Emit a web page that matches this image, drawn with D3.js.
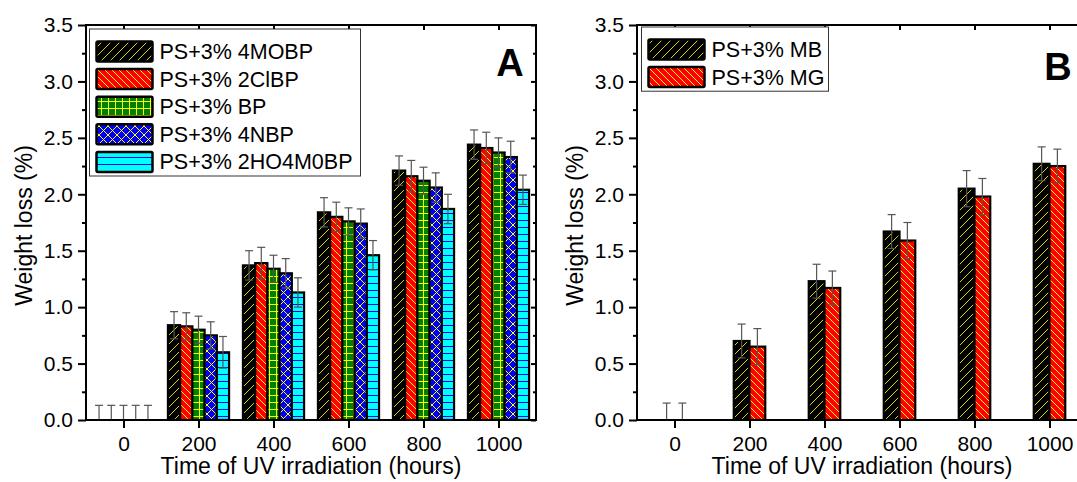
<!DOCTYPE html>
<html>
<head>
<meta charset="utf-8">
<script src="https://cdn.jsdelivr.net/npm/d3@7"></script>
<style>
  body { margin: 0; background: #fff; }
  svg { font-family: "Liberation Sans", Arial, sans-serif; }
</style>
</head>
<body>
<svg id="chart" width="1077" height="482"></svg>
<script>
// ---- data ----
const hours = [0, 200, 400, 600, 800, 1000];
const xTicks = [0, 200, 400, 600, 800, 1000];
const yTicks = [0, 0.5, 1.0, 1.5, 2.0, 2.5, 3.0, 3.5];
const yMinorTicks = [0.25, 0.75, 1.25, 1.75, 2.25, 2.75, 3.25];

const seriesA = ['PS+3% 4MOBP', 'PS+3% 2ClBP', 'PS+3% BP', 'PS+3% 4NBP', 'PS+3% 2HO4M0BP'];
const valuesA = [
    [0, 0.84, 1.37, 1.84, 2.21, 2.44],
    [0, 0.83, 1.39, 1.80, 2.16, 2.41],
    [0, 0.80, 1.34, 1.76, 2.12, 2.37],
    [0, 0.75, 1.30, 1.74, 2.06, 2.33],
    [0, 0.60, 1.13, 1.46, 1.87, 2.04]
];
const errorsA = [
    [0.13, 0.12, 0.13, 0.13, 0.13, 0.13],
    [0.13, 0.12, 0.14, 0.13, 0.14, 0.14],
    [0.13, 0.12, 0.12, 0.12, 0.12, 0.13],
    [0.13, 0.12, 0.13, 0.13, 0.13, 0.14],
    [0.13, 0.14, 0.13, 0.13, 0.13, 0.13]
];
const patternsA = ['slash', 'backslash', 'grid', 'cross', 'hline'];

const seriesB = ['PS+3% MB', 'PS+3% MG'];
const valuesB = [
    [0, 0.70, 1.23, 1.67, 2.05, 2.27],
    [0, 0.65, 1.17, 1.59, 1.98, 2.25]
];
const errorsB = [
    [0.15, 0.15, 0.15, 0.15, 0.16, 0.15],
    [0.15, 0.16, 0.15, 0.16, 0.16, 0.15]
];
const patternsB = ['slash', 'backslash'];

const svg = d3.select('#chart');
const defs = svg.append('defs');

// hatch fills
function addPattern(id, size, bg, stroke, d) {
    const p = defs.append('pattern')
        .attr('id', id)
        .attr('patternUnits', 'userSpaceOnUse')
        .attr('width', size)
        .attr('height', size);
    p.append('rect').attr('width', size).attr('height', size).attr('fill', bg);
    p.append('path').attr('d', d).attr('stroke', stroke).attr('stroke-width', 1).attr('fill', 'none');
}
addPattern('slash', 9, '#000', '#d8d800', 'M-1,10 L10,-1 M-3,3 L3,-3 M6,12 L12,6');
addPattern('backslash', 7, '#ff0000', '#ffff00', 'M-1,-1 L8,8 M-3,4 L3,10 M4,-3 L10,3');
addPattern('grid', 7, '#008000', '#ffff00', 'M3.5,0 V7 M0,3.5 H7');
addPattern('cross', 9, '#0000ff', '#ffff00', 'M0,0 L9,9 M9,0 L0,9');
addPattern('hline', 7, '#00ffff', '#0000ff', 'M0,3.5 H7');

function drawPanel(cfg) {
    const x = d3.scaleLinear().domain([-100, 1100]).range([cfg.left, cfg.left + 450]);
    const y = d3.scaleLinear().domain([0, 3.5]).range([cfg.bottom, cfg.top]);

    const g = svg.append('g');
    const clipId = 'clip-' + cfg.name;
    defs.append('clipPath').attr('id', clipId)
        .append('rect')
        .attr('x', cfg.left).attr('y', cfg.top)
        .attr('width', 450).attr('height', cfg.bottom - cfg.top);

    // bars: offsets inside a group come from a band scale
    const half = x(cfg.groupHours / 2) - x(0);
    const inner = d3.scaleBand()
        .domain(d3.range(cfg.series.length))
        .range([-half, half]);

    const plot = g.append('g').attr('clip-path', `url(#${clipId})`);

    cfg.series.forEach((name, si) => {
        const rows = hours.map((h, hi) => ({ h: h, v: cfg.values[si][hi], e: cfg.errors[si][hi] }));
        plot.selectAll(null).data(rows.filter(d => d.v > 0)).enter().append('rect')
            .attr('x', d => x(d.h) + inner(si))
            .attr('y', d => y(d.v))
            .attr('width', inner.bandwidth())
            .attr('height', d => y(0) - y(d.v))
            .attr('fill', `url(#${cfg.patterns[si]})`)
            .attr('stroke', '#000')
            .attr('stroke-width', 2.2);
    });

    // error bars
    cfg.series.forEach((name, si) => {
        const rows = hours.map((h, hi) => ({ h: h, v: cfg.values[si][hi], e: cfg.errors[si][hi] }));
        const eb = plot.selectAll(null).data(rows).enter().append('g')
            .attr('stroke', '#555')
            .attr('stroke-width', 1.2);
        const cx = d => x(d.h) + inner(si) + inner.bandwidth() / 2;
        eb.append('line')
            .attr('x1', cx).attr('x2', cx)
            .attr('y1', d => y(d.v - d.e)).attr('y2', d => y(d.v + d.e));
        [1, -1].forEach(s => {
            eb.append('line')
                .attr('x1', d => cx(d) - 4).attr('x2', d => cx(d) + 4)
                .attr('y1', d => y(d.v + s * d.e)).attr('y2', d => y(d.v + s * d.e));
        });
    });

    // axes
    const right = x(1100);
    const bottomAxis = g.append('g').attr('transform', `translate(0,${cfg.bottom})`)
        .call(d3.axisBottom(x).tickValues(xTicks).tickSize(8).tickPadding(8).tickFormat(d3.format('d')));
    const topAxis = g.append('g').attr('transform', `translate(0,${cfg.top})`)
        .call(d3.axisBottom(x).tickValues(xTicks).tickSize(5).tickFormat(''));
    const leftAxis = g.append('g').attr('transform', `translate(${cfg.left},0)`)
        .call(d3.axisLeft(y).tickValues(yTicks).tickSize(8).tickPadding(5).tickFormat(d3.format('.1f')));
    const leftMinor = g.append('g').attr('transform', `translate(${cfg.left},0)`)
        .call(d3.axisLeft(y).tickValues(yMinorTicks).tickSize(4).tickFormat(''));
    const rightAxis = g.append('g').attr('transform', `translate(${right},0)`)
        .call(d3.axisLeft(y).tickValues(yTicks).tickSize(5).tickFormat(''));
    const rightMinor = g.append('g').attr('transform', `translate(${right},0)`)
        .call(d3.axisLeft(y).tickValues(yMinorTicks).tickSize(3).tickFormat(''));

    [bottomAxis, topAxis, leftAxis, leftMinor, rightAxis, rightMinor].forEach(a => {
        a.select('.domain').remove();
        a.selectAll('line').attr('stroke', '#000').attr('stroke-width', 2);
        a.selectAll('text').attr('fill', '#000').style('font-size', '21px')
            .style('font-family', '"Liberation Sans", Arial, sans-serif');
    });

    g.append('rect')
        .attr('x', cfg.left).attr('y', cfg.top)
        .attr('width', right - cfg.left).attr('height', cfg.bottom - cfg.top)
        .attr('fill', 'none').attr('stroke', '#000').attr('stroke-width', 2);

    // axis titles
    g.append('text')
        .attr('x', (cfg.left + right) / 2).attr('y', cfg.bottom + 54)
        .attr('text-anchor', 'middle').style('font-size', '23px')
        .text('Time of UV irradiation (hours)');
    g.append('text')
        .attr('transform', `translate(${cfg.left - 54},${(cfg.top + cfg.bottom) / 2 + 3}) rotate(-90)`)
        .attr('text-anchor', 'middle').style('font-size', '23px')
        .text('Weight loss (%)');

    // panel letter
    g.append('text')
        .attr('x', cfg.letterX).attr('y', cfg.letterY)
        .attr('text-anchor', 'middle').style('font-size', '38px').style('font-weight', 'bold')
        .text(cfg.name);

    // legend
    const lg = g.append('g');
    lg.append('rect')
        .attr('x', cfg.legend.x).attr('y', cfg.legend.y)
        .attr('width', cfg.legend.w).attr('height', cfg.series.length * 27.6 + 9)
        .attr('fill', '#fff').attr('stroke', '#333').attr('stroke-width', 1);
    cfg.series.forEach((name, si) => {
        const cy = cfg.legend.y + 22.5 + si * 27.6;
        lg.append('rect')
            .attr('x', cfg.legend.x + 7).attr('y', cy - 10)
            .attr('width', 56).attr('height', 20).attr('rx', 1.5)
            .attr('fill', `url(#${cfg.patterns[si]})`)
            .attr('stroke', '#000').attr('stroke-width', 2.5);
        lg.append('text')
            .attr('x', cfg.legend.x + 70).attr('y', cy + 7.5)
            .style('font-size', '21.5px')
            .text(name);
    });
}

drawPanel({
    name: 'A', left: 86, top: 25, bottom: 420,
    series: seriesA, values: valuesA, errors: errorsA, patterns: patternsA,
    groupHours: 163, letterX: 510, letterY: 76,
    legend: { x: 89.5, y: 29, w: 271 }
});
drawPanel({
    name: 'B', left: 637, top: 25, bottom: 420,
    series: seriesB, values: valuesB, errors: errorsB, patterns: patternsB,
    groupHours: 84, letterX: 1058, letterY: 80,
    legend: { x: 641.5, y: 27, w: 187 }
});
</script>
</body>
</html>
